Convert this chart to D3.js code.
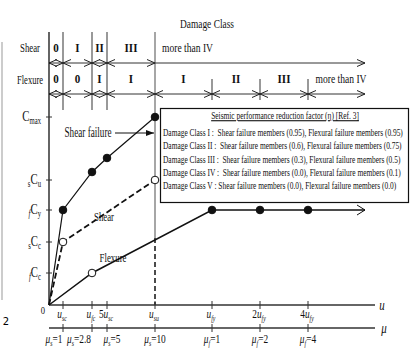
<!DOCTYPE html>
<html>
<head>
<meta charset="utf-8">
<script src="https://cdn.jsdelivr.net/npm/d3@7"></script>
<style>
body{margin:0;background:#fff;}
</style>
</head>
<body>
<script>
// displacement / capacity values (schematic units)
var uTickPos = [14, 43, 58, 106, 163, 211, 259];
var uTickBase = ["u", "u", "5u", "u", "u", "2u", "4u"];
var uTickSub = ["sc", "fc", "sc", "su", "fy", "fy", "fy"];
var muTickSub = ["s", "s", "s", "s", "f", "f", "f"];
var muTickVal = ["1", "2.8", "5", "10", "1", "2", "4"];

var yTickPos = [188, 125, 95, 63, 32];
var yTickPre = ["", "s", "f", "s", "f"];
var yTickSub = ["max", "u", "y", "c", "c"];

var shearFailure = [[0, 0], [14, 95], [43, 133], [58, 147], [106, 188]];
var shearCurve = [[0, 0], [14, 63], [106, 125]];
var flexureCurve = [[0, 0], [43, 32], [163, 95], [211, 95], [259, 95], [316, 95]];

// damage class bands
var shearBounds = [0, 14, 43, 58, 106, 316];
var shearClasses = ["0", "I", "II", "III", "more than IV"];
var flexBounds = [0, 14, 43, 58, 106, 163, 211, 259, 316];
var flexClasses = ["0", "0", "I", "I", "I", "II", "III", "more than IV"];

// seismic performance reduction factor table
var etaClass = ["I", "II", "III", "IV", "V"];
var etaShear = ["0.95", "0.6", "0.3", "0.0", "0.0"];
var etaFlex = ["0.95", "0.75", "0.5", "0.1", "0.0"];

var W = 416, H = 352;
var FONT = "'Liberation Serif', 'Times New Roman', serif";
var svg = d3.select("body").append("svg").attr("width", W).attr("height", H)
    .style("font-family", FONT);

var x = d3.scaleLinear().domain([0, 326]).range([49, 375]);
var y = d3.scaleLinear().domain([0, 267]).range([305, 38]);
var SX = 0.78;

var defs = svg.append("defs");
defs.append("marker").attr("id", "chev").attr("viewBox", "0 0 8 8")
    .attr("refX", 8).attr("refY", 4).attr("markerWidth", 8).attr("markerHeight", 8)
    .attr("markerUnits", "userSpaceOnUse").attr("orient", "auto-start-reverse")
    .append("path").attr("d", "M0,0.5 L8,4 L0,7.5").attr("fill", "none").attr("stroke", "#222").attr("stroke-width", 1);
defs.append("marker").attr("id", "tri").attr("viewBox", "0 0 8 8")
    .attr("refX", 8).attr("refY", 4).attr("markerWidth", 8).attr("markerHeight", 8)
    .attr("markerUnits", "userSpaceOnUse").attr("orient", "auto")
    .append("path").attr("d", "M0,1 L8,4 L0,7 Z").attr("fill", "#111");

// text with sub/prefix subscripts, horizontally condensed like the original
function rich(px, py, parts, size, anchor, sx) {
    var t = svg.append("text")
        .attr("transform", "translate(" + px + "," + py + ") scale(" + (sx || SX) + ",1)")
        .attr("text-anchor", anchor || "middle")
        .attr("fill", "#111")
        .style("font-family", FONT)
        .style("white-space", "pre")
        .style("font-size", size + "px");
    var off = 0;
    parts.forEach(function (p) {
        var target = p.sub ? size * 0.2 : 0;
        t.append("tspan").attr("dy", target - off)
            .style("font-size", (p.sub ? size * 0.62 : size) + "px")
            .style("font-style", p.it ? "italic" : "normal")
            .text(p.t);
        off = target;
    });
    return t;
}
// squeeze a text horizontally so that it is `w` pixels wide
function fit(t, px, py, w) {
    var n = t.node().getComputedTextLength();
    t.attr("transform", "translate(" + px + "," + py + ") scale(" + (w / n) + ",1)");
    return t;
}
function label(px, py, str, size, w, anchor) {
    return fit(rich(px, py, [{t: str}], size, anchor, 1), px, py, w);
}

// stray crop edge at the left
svg.append("line").attr("x1", 2).attr("x2", 2).attr("y1", 42).attr("y2", 300).attr("stroke", "#bbb").attr("stroke-width", 1.5);
svg.append("text").attr("x", 6).attr("y", 325).attr("text-anchor", "middle")
    .style("font-family", "DejaVu Sans").style("font-size", "10px").text("2");

// header
label(207, 28, "Damage Class", 13, 54);
label(30, 52, "Shear", 13, 20);
label(30, 84, "Flexure", 13, 26);

// vertical class boundaries
shearBounds.slice(1, 4).forEach(function (b) {
    svg.append("line").attr("x1", x(b)).attr("x2", x(b)).attr("y1", 32).attr("y2", 110)
        .attr("stroke", "#777").attr("stroke-width", 1.5);
});
flexBounds.slice(5, 8).forEach(function (b) {
    svg.append("line").attr("x1", x(b)).attr("x2", x(b)).attr("y1", 79).attr("y2", 100)
        .attr("stroke", "#777").attr("stroke-width", 1.5);
});
var uSu = uTickPos[3];
svg.append("line").attr("x1", x(uSu)).attr("x2", x(uSu)).attr("y1", 32).attr("y2", 238)
    .attr("stroke", "#888").attr("stroke-width", 1.5);
svg.append("line").attr("x1", x(uSu)).attr("x2", x(uSu)).attr("y1", 238).attr("y2", y(0))
    .attr("stroke", "#111").attr("stroke-width", 1.5).attr("stroke-dasharray", "5,3");

function bandRow(bounds, names, ry, lastOpenStart) {
    for (var i = 0; i < bounds.length - 1; i++) {
        var last = i == bounds.length - 2;
        var ln = svg.append("line").attr("x1", x(bounds[i])).attr("x2", x(bounds[i + 1]))
            .attr("y1", ry).attr("y2", ry).attr("stroke", "#333").attr("stroke-width", 1)
            .attr("marker-end", "url(#chev)");
        if (!(last && lastOpenStart)) ln.attr("marker-start", "url(#chev)");
        var cx = (x(bounds[i]) + x(bounds[i + 1])) / 2;
        if (names[i].length > 4) {
            var t = rich(0, 0, [{t: names[i]}], 13, "start", 1);
            var sx = lastOpenStart ? x(bounds[i]) + 7 : cx - 21;
            fit(t, sx, ry - 11, 51);
        } else {
            rich(cx, ry - 11, [{t: names[i]}], 13, "middle", 0.85).style("font-weight", "bold");
        }
    }
}
bandRow(shearBounds, shearClasses, 63, true);
bandRow(flexBounds, flexClasses, 94, false);

// axes
svg.append("line").attr("x1", x(0)).attr("x2", x(0)).attr("y1", 32).attr("y2", y(0)).attr("stroke", "#111").attr("stroke-width", 1.3);
svg.append("line").attr("x1", x(0)).attr("x2", x(326)).attr("y1", y(0)).attr("y2", y(0)).attr("stroke", "#333").attr("stroke-width", 1.3);
svg.append("line").attr("x1", x(0)).attr("x2", x(326)).attr("y1", 328).attr("y2", 328).attr("stroke", "#333").attr("stroke-width", 1.3);
rich(382, 310, [{t: "u", it: 1}], 14);
rich(384, 333, [{t: "μ", it: 1}], 14);
rich(43, 314, [{t: "0"}], 11);

uTickPos.forEach(function (v, i) {
    svg.append("line").attr("x1", x(v)).attr("x2", x(v)).attr("y1", y(0) - 4).attr("y2", y(0) + 4).attr("stroke", "#333");
    svg.append("line").attr("x1", x(v)).attr("x2", x(v)).attr("y1", 324).attr("y2", 332).attr("stroke", "#333");
    var num = uTickBase[i].slice(0, -1);
    rich(x(v) - 1, 318, [{t: num}, {t: "u", it: 1}, {t: uTickSub[i], sub: 1, it: 1}], 13, "middle", 0.72);
    var nudge = [-9, -13, 5, 0, 0, 0, 0][i];
    rich(x(v) + nudge, 343, [{t: "μ", it: 1}, {t: muTickSub[i], sub: 1, it: 1}, {t: "=" + muTickVal[i]}], 13, "middle", 0.72);
});

yTickPos.forEach(function (v, i) {
    svg.append("line").attr("x1", x(0) - 3).attr("x2", x(0) + 3).attr("y1", y(v)).attr("y2", y(v)).attr("stroke", "#333");
    var parts = [];
    if (yTickPre[i]) parts.push({t: yTickPre[i], sub: 1, it: yTickPre[i] == "f"});
    parts.push({t: "C"});
    parts.push({t: yTickSub[i], sub: 1});
    rich(41, y(v) + 4, parts, 15, "end", 0.72);
});

// curves
var line = d3.line().x(function (d) { return x(d[0]); }).y(function (d) { return y(d[1]); });
svg.append("path").datum(shearFailure).attr("d", line).attr("fill", "none").attr("stroke", "#111").attr("stroke-width", 1.2);
svg.append("path").datum(shearCurve).attr("d", line).attr("fill", "none").attr("stroke", "#111").attr("stroke-width", 1.8).attr("stroke-dasharray", "6,3");
svg.append("path").datum(flexureCurve).attr("d", line).attr("fill", "none").attr("stroke", "#111").attr("stroke-width", 1.5);
var fe = x(flexureCurve[flexureCurve.length - 1][0]), fy = y(95);
svg.append("path").attr("d", "M" + (fe - 8) + "," + (fy - 5) + " L" + fe + "," + fy + " L" + (fe - 8) + "," + (fy + 5))
    .attr("fill", "none").attr("stroke", "#111").attr("stroke-width", 1);

function dots(data, filled) {
    svg.selectAll(null).data(data).enter().append("circle")
        .attr("cx", function (d) { return x(d[0]); })
        .attr("cy", function (d) { return y(d[1]); })
        .attr("r", 3.8)
        .attr("fill", function (d, i) { return filled[i] ? "#111" : "#fff"; })
        .attr("stroke", "#111").attr("stroke-width", 1);
}
dots(shearFailure.slice(1), [1, 1, 1, 1]);
dots(shearCurve.slice(1), [0, 0]);
dots(flexureCurve.slice(1, 5), [0, 1, 1, 1]);

// curve labels
label(104, 221, "Shear", 13, 20);
label(113, 262, "Flexure", 13, 27);
label(88, 137, "Shear failure", 14, 47);
svg.append("line").attr("x1", 115).attr("x2", 154).attr("y1", 133).attr("y2", 133)
    .attr("stroke", "#111").attr("stroke-width", 1.2).attr("marker-end", "url(#tri)");

// reduction factor box
svg.append("rect").attr("x", 160.5).attr("y", 108.5).attr("width", 248).attr("height", 94)
    .attr("fill", "#fff").attr("stroke", "#111").attr("stroke-width", 1.2);
label(285, 119, "Seismic performance reduction factor (η) [Ref. 3]", 11, 148)
    .style("text-decoration", "underline");

var rows = etaClass.map(function (c, i) {
    var sp = c == "V" ? " " : "  ";
    return rich(163, 136 + i * 13.3, [{t: "Damage Class " + c + " :" + sp + "Shear failure members (" + etaShear[i] + "), Flexural failure members (" + etaFlex[i] + ")"}], 11, "start", 1);
});
var k = 240 / rows[0].node().getComputedTextLength();
rows.forEach(function (r, i) {
    r.attr("transform", "translate(163," + (136 + i * 13.3) + ") scale(" + k + ",1)");
});
</script>
</body>
</html>
